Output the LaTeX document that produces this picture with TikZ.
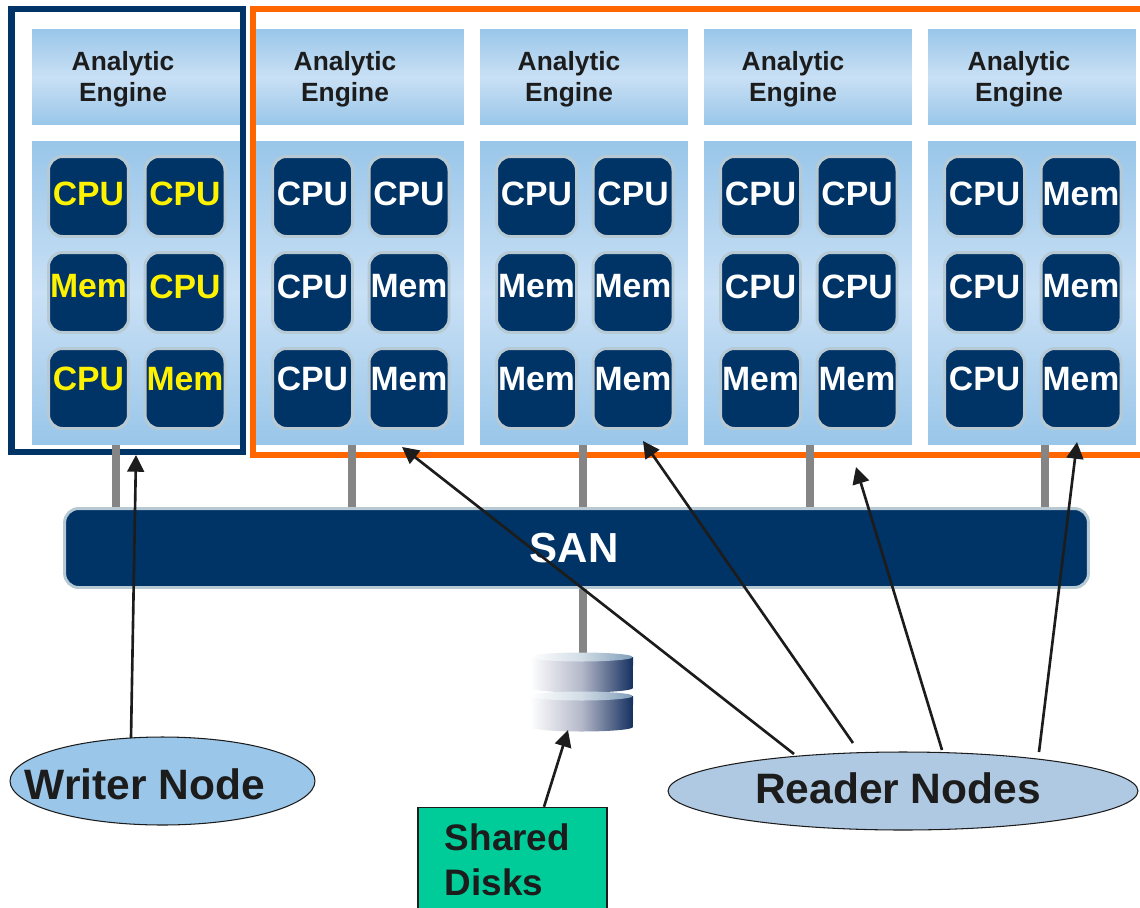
\documentclass[tikz,border=0pt]{standalone}
\usepackage{fontspec}
\setmainfont{Liberation Sans}
\usetikzlibrary{shapes.geometric,arrows.meta}

\definecolor{navy}{HTML}{003366}
\definecolor{panelblue}{HTML}{99C6E9}
\definecolor{panellight}{HTML}{C9E0F5}
\definecolor{chipedge}{HTML}{B7C9D3}
\definecolor{stubgray}{HTML}{858585}
\definecolor{inkblack}{HTML}{1C1C1C}
\definecolor{readerorange}{HTML}{FF6600}
\definecolor{readerblue}{HTML}{B0C9E3}
\definecolor{sharedgreen}{HTML}{00CC99}
\definecolor{diskmid}{HTML}{B4B8C9}
\definecolor{diskdark}{HTML}{15305F}
\definecolor{disktopdark}{HTML}{7F9DB9}

\tikzset{
  panel/.style={rectangle,minimum width=4.16cm,inner sep=0pt,top color=panelblue,bottom color=panelblue,middle color=panellight},
  chip/.style={rectangle,rounded corners=.28cm,fill=navy,draw=chipedge,line width=1.7pt,minimum size=1.6cm,inner sep=0pt},
  chiptext/.style={font=\bfseries\fontsize{19.2}{20}\selectfont,inner sep=0pt},
  enginetext/.style={font=\bfseries\fontsize{15}{17.6}\selectfont,text=inkblack,align=center,inner sep=0pt},
  bigtext/.style={font=\bfseries\fontsize{24.2}{26}\selectfont,text=inkblack,inner sep=0pt},
  stub/.style={stubgray,line width=4.5pt},
  pointer/.style={inkblack,line width=1.5pt,-{Triangle[width=9.5pt,length=9.5pt]}},
}

\begin{document}
\begin{tikzpicture}[x=0.02cm,y=-0.02cm]
  \useasboundingbox (0,0) rectangle (1140,907);
  \clip (0,0) rectangle (1140,907);

  % Engine header, chip panel and chips of each node
  \foreach \cname/\px/\ex/\tone/\chips in {
    0/32/123/yellow/{CPU,CPU,Mem,CPU,CPU,Mem},
    1/256/345/white/{CPU,CPU,CPU,Mem,CPU,Mem},
    2/480/569/white/{CPU,CPU,Mem,Mem,Mem,Mem},
    3/704/793/white/{CPU,CPU,CPU,CPU,Mem,Mem},
    4/928/1019/white/{CPU,Mem,CPU,Mem,CPU,Mem}} {
    \node[panel,minimum height=1.92cm] (head\cname) at (\px+104,77) {};
    \node[enginetext] (engine\cname) at (\ex,79.5) {Analytic\\Engine};
    \node[panel,minimum height=6.08cm] (body\cname) at (\px+104,293) {};
    \foreach \lab [count=\i from 0] in \chips {
      \pgfmathsetmacro{\cx}{\px+56.5+96.5*mod(\i,2)}
      \pgfmathsetmacro{\cy}{196.5+96*floor(\i/2)}
      \pgfmathsetmacro{\ty}{194+92.5*floor(\i/2)}
      \node[chip] (chip\cname-\i) at (\cx,\cy) {};
      \node[chiptext,text=\tone] (chiptext\cname-\i) at (\cx,\ty) {\lab};
    }
  }

  % Frames round the writer and the readers
  \node[rectangle,draw=navy,line width=3.6pt,minimum width=4.636cm,minimum height=8.86cm,inner sep=0pt] (writerframe) at (127.4,230.2) {};
  \coordinate (frametopright) at (1150,8.7);
  \coordinate (framebottomright) at (1150,455);
  \draw[readerorange,line width=3.4pt] (frametopright) -- (253,8.7) -- (253,455) -- (framebottomright);

  % SAN bar
  \node[rectangle,rounded corners=.28cm,fill=navy,draw=chipedge,line width=1.7pt,minimum width=20.48cm,minimum height=1.58cm,inner sep=0pt] (san) at (576.5,548) {};
  \node[font=\bfseries\fontsize{23.9}{26}\selectfont,text=white,inner sep=0pt] (santext) at (574,548) {SAN};

  % Stubs between the panels and the bar
  \foreach \cname/\sx in {0/116,1/352,2/583,3/810,4/1045} {
    \draw[stub] (body\cname.south -| \sx,0) -- (san.north -| \sx,0);
  }
  \coordinate (disktop) at (583,654);
  \draw[stub] (san.south -| disktop) -- (disktop);

  % Two stacked disks
  \foreach \dy in {0,39} {
    \path[left color=white,right color=diskdark,middle color=diskmid] (530,657+\dy) -- (530,688+\dy)
      arc[start angle=180,end angle=360,x radius=1.03cm,y radius=.09cm] -- (633,657+\dy) -- cycle;
    \path[left color=white,right color=disktopdark,middle color=disktopdark!35!white] (581.5,657+\dy) ellipse[x radius=1.03cm,y radius=.09cm];
  }
  \coordinate (diskbottom) at (568,730);

  % Labelled ellipses and box
  \node[ellipse,draw=inkblack,line width=.6pt,fill=panelblue,minimum width=6.1cm,minimum height=1.76cm,inner sep=0pt] (writer) at (162.5,781) {};
  \node[bigtext] (writertext) at (145,784) {Writer Node};
  \node[ellipse,draw=inkblack,line width=.6pt,fill=readerblue,minimum width=9.4cm,minimum height=1.56cm,inner sep=0pt] (reader) at (903,791) {};
  \node[bigtext] (readertext) at (898,788.5) {Reader Nodes};
  \node[rectangle,draw=inkblack,line width=.8pt,fill=sharedgreen,minimum width=3.78cm,minimum height=2.1cm,inner sep=0pt] (shared) at (512.5,860) {};
  \node[font=\bfseries\fontsize{21}{25.5}\selectfont,text=inkblack,align=left,anchor=west,inner sep=0pt] (sharedtext) at (444.5,860) {Shared\\Disks};

  % Arrows
  \coordinate (writertail) at (131,738);
  \coordinate (writertip) at (136,455);
  \draw[pointer] (writertail) -- (writertip);
  \draw[pointer] (shared.north -| 544,0) -- (diskbottom);
  \foreach \tailx/\taily/\tipx/\tipy in {794/754/402/447,853/743/643/441,942/750/856/467,1039/752/1077/442} {
    \coordinate (tail) at (\tailx,\taily);
    \coordinate (tip) at (\tipx,\tipy);
    \draw[pointer] (tail) -- (tip);
  }
\end{tikzpicture}
\end{document}
